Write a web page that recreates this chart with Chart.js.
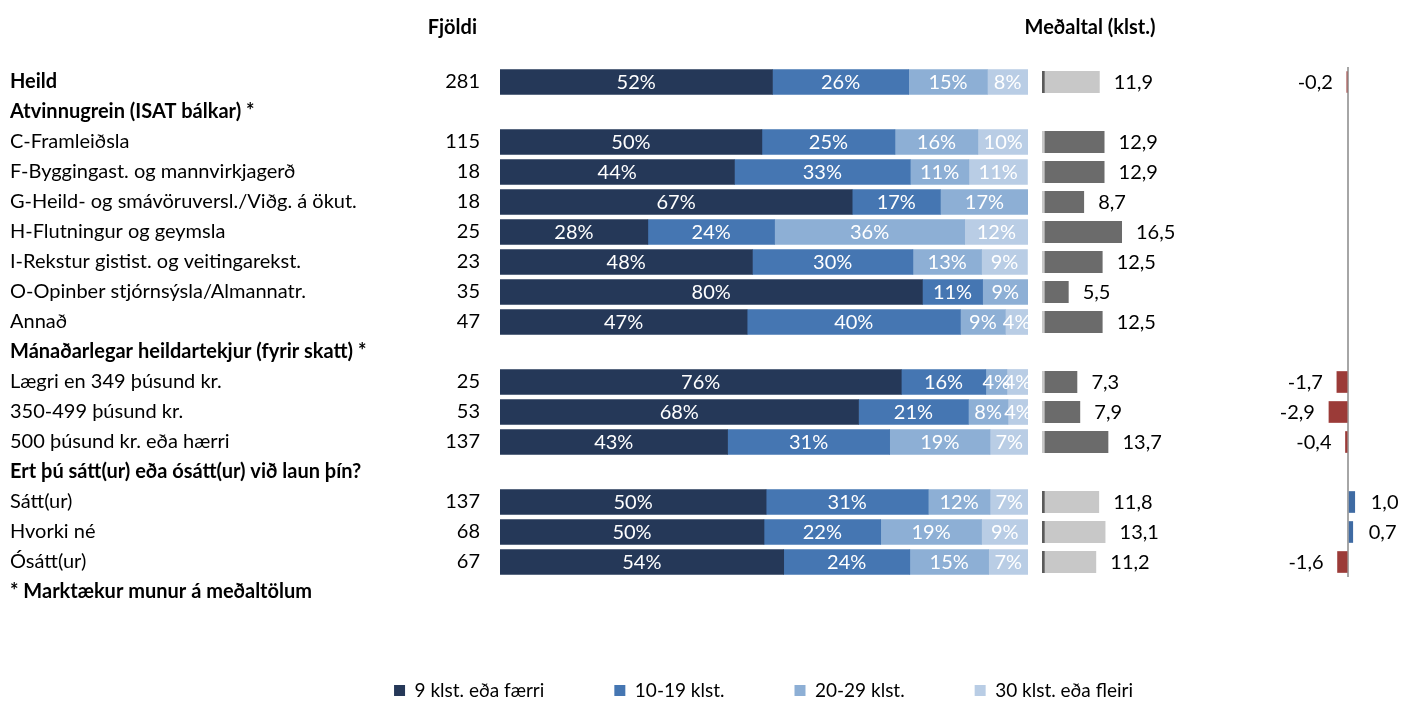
<!DOCTYPE html>
<html><head><meta charset="utf-8">
<script src="https://cdn.jsdelivr.net/npm/chart.js@4.4.1/dist/chart.umd.min.js"></script>
<style>
html,body{margin:0;padding:0;background:#fff;overflow:hidden;width:1405px;height:702px;position:relative}
canvas{position:absolute;top:0}
#cA{left:0}
#cB{left:1000px}
#cC{left:122px}
</style></head><body>
<canvas id="cA" width="1040" height="702"></canvas>
<canvas id="cB" width="300" height="702"></canvas>
<canvas id="cC" width="1283" height="710"></canvas>
<script>
// ---------- data ----------
const categories = [
  'Heild',
  'Atvinnugrein (ISAT bálkar) *',
  'C-Framleiðsla',
  'F-Byggingast. og mannvirkjagerð',
  'G-Heild- og smávöruversl./Viðg. á ökut.',
  'H-Flutningur og geymsla',
  'I-Rekstur gistist. og veitingarekst.',
  'O-Opinber stjórnsýsla/Almannatr.',
  'Annað',
  'Mánaðarlegar heildartekjur (fyrir skatt) *',
  'Lægri en 349 þúsund kr.',
  '350-499 þúsund kr.',
  '500 þúsund kr. eða hærri',
  'Ert þú sátt(ur) eða ósátt(ur) við laun þín?',
  'Sátt(ur)',
  'Hvorki né',
  'Ósátt(ur)',
  '* Marktækur munur á meðaltölum'
];
const headerRows = [0, 1, 9, 13, 17];
const counts = ['281', '', '115', '18', '18', '25', '23', '35', '47', '', '25', '53', '137', '', '137', '68', '67', ''];
const seriesNames = ['9 klst. eða færri', '10-19 klst.', '20-29 klst.', '30 klst. eða fleiri'];
const s9  = [51.6, null, 49.6, 44.4, 66.7, 28.0, 47.8, 80.0, 46.8, null, 76.0, 67.9, 43.1, null, 50.4, 50.0, 53.73, null];
const s10 = [25.8, null, 25.2, 33.3, 16.7, 24.0, 30.4, 11.4, 40.4, null, 16.0, 20.8, 30.7, null, 30.7, 22.1, 23.88, null];
const s20 = [14.9, null, 15.7, 11.1, 16.7, 36.0, 13.0, 8.6, 8.5, null, 4.0, 7.5, 19.0, null, 11.7, 19.1, 14.93, null];
const s30 = [7.7, null, 9.6, 11.1, null, 12.0, 8.7, null, 4.3, null, 4.0, 3.8, 7.3, null, 7.3, 8.8, 7.46, null];
const means = [11.9, null, 12.9, 12.9, 8.7, 16.5, 12.5, 5.5, 12.5, null, 7.3, 7.9, 13.7, null, 11.8, 13.1, 11.2, null];
const diffs = [-0.2, null, null, null, null, null, null, null, null, null, -1.7, -2.9, -0.4, null, 1.0, 0.7, -1.6];

// ---------- styles ----------
const FONT = 'Lato, "Open Sans", sans-serif';
const FS = 20;
const seriesColors = ['#253858', '#4576B2', '#8DAFD5', '#B9CDE5'];
// a row's mean bar is dark when its group header is marked significant (*)
function groupSignificant(i) {
  for (let k = i; k >= 0; k--) {
    if (headerRows.includes(k)) return k !== 0 && categories[k].trim().endsWith('*');
  }
  return false;
}
const fmt = v => v.toFixed(1).replace('.', ',');

// ---------- Chart A: labels, counts, stacked bars ----------
const pctLabels = {
  id: 'pctLabels',
  afterDatasetsDraw(chart) {
    const ctx = chart.ctx;
    ctx.save();
    ctx.font = `${FS}px ${FONT}`;
    ctx.fillStyle = '#fff';
    ctx.textAlign = 'center';
    ctx.textBaseline = 'middle';
    chart.data.datasets.forEach((ds, di) => {
      chart.getDatasetMeta(di).data.forEach((el, j) => {
        const v = ds.data[j];
        if (v == null) return;
        ctx.fillText(Math.round(v) + '%', (el.x + el.base) / 2, el.y + 1);
      });
    });
    // column header
    const y2 = chart.scales.y2;
    ctx.fillStyle = '#000';
    ctx.font = `bold ${FS}px ${FONT}`;
    ctx.textAlign = 'right';
    ctx.fillText('Fjöldi', y2.right - 23, 28);
    ctx.restore();
  }
};

new Chart(document.getElementById('cA'), {
  type: 'bar',
  data: {
    labels: categories,
    datasets: [s9, s10, s20, s30].map((d, k) => ({
      label: seriesNames[k], data: d, backgroundColor: seriesColors[k],
      borderWidth: 0, barThickness: 25
    }))
  },
  options: {
    indexAxis: 'y', responsive: false, animation: false,
    layout: { padding: { left: 10, top: 67, bottom: 95, right: 12 } },
    plugins: { legend: { display: false }, tooltip: { enabled: false } },
    scales: {
      x: { stacked: true, min: 0, max: 100, display: false },
      y: {
        stacked: true, position: 'left', weight: 2,
        grid: { display: false }, border: { display: false },
        ticks: {
          crossAlign: 'far', color: '#000', autoSkip: false, padding: 0,
          font: c => ({ family: FONT, size: FS, weight: headerRows.includes(c.index) ? 'bold' : 'normal' })
        },
        afterFit: s => { s.width = 390; }
      },
      y2: {
        type: 'category', labels: counts, position: 'left', weight: 1, offset: true,
        grid: { display: false, drawTicks: false }, border: { display: false },
        ticks: { color: '#000', autoSkip: false, padding: 20, font: { family: FONT, size: FS } },
        afterFit: s => { s.width = 100; }
      }
    }
  },
  plugins: [pctLabels]
});

// ---------- Chart B: means ----------
const meanLabels = {
  id: 'meanLabels',
  afterDatasetsDraw(chart) {
    const ctx = chart.ctx;
    ctx.save();
    ctx.font = `${FS}px ${FONT}`;
    ctx.fillStyle = '#000';
    ctx.textAlign = 'left';
    ctx.textBaseline = 'middle';
    const ds = chart.data.datasets[0];
    chart.getDatasetMeta(0).data.forEach((el, j) => {
      const v = ds.data[j];
      if (v == null) return;
      ctx.fillText(fmt(v), el.x + 14, el.y + 1);
    });
    ctx.font = `bold ${FS}px ${FONT}`;
    ctx.textAlign = 'center';
    ctx.fillText('Meðaltal (klst.)', chart.chartArea.left + 48, 28);
    ctx.restore();
  }
};

new Chart(document.getElementById('cB'), {
  type: 'bar',
  data: {
    labels: categories,
    datasets: [{
      label: 'Meðaltal', data: means,
      backgroundColor: means.map((v, i) => groupSignificant(i) ? '#6B6B6B' : '#C8C8C8'),
      borderColor: means.map((v, i) => groupSignificant(i) ? '#C8C8C8' : '#5A5A5A'),
      borderWidth: { left: 3, top: 0, right: 0, bottom: 0 },
      borderSkipped: false,
      barThickness: 22
    }]
  },
  options: {
    indexAxis: 'y', responsive: false, animation: false,
    layout: { padding: { left: 42, top: 67, bottom: 95, right: 64 } },
    plugins: { legend: { display: false }, tooltip: { enabled: false } },
    scales: {
      x: { min: 0, max: 40, display: false },
      y: { display: false }
    }
  },
  plugins: [meanLabels]
});

// ---------- Chart C: differences + legend ----------
const diffLabels = {
  id: 'diffLabels',
  afterDatasetsDraw(chart) {
    const ctx = chart.ctx;
    ctx.save();
    ctx.font = `${FS}px ${FONT}`;
    ctx.fillStyle = '#000';
    ctx.textBaseline = 'middle';
    const ds = chart.data.datasets[0];
    chart.getDatasetMeta(0).data.forEach((el, j) => {
      const v = ds.data[j];
      if (v == null) return;
      if (v < 0) { ctx.textAlign = 'right'; ctx.fillText(fmt(v), el.x - 14, el.y + 1); }
      else { ctx.textAlign = 'left'; ctx.fillText(fmt(v), el.x + 16, el.y + 1); }
    });
    ctx.restore();
  }
};

new Chart(document.getElementById('cC'), {
  type: 'bar',
  data: {
    labels: categories.slice(0, diffs.length),
    datasets: [{
      label: 'Mismunur', data: diffs,
      backgroundColor: diffs.map(v => v != null && v < 0 ? '#9B3B38' : '#3F6BA3'),
      borderWidth: 0, barThickness: 21
    }]
  },
  options: {
    indexAxis: 'y', responsive: false, animation: false,
    layout: { padding: { left: 0, top: 67, bottom: 0, right: 0 } },
    plugins: {
      tooltip: { enabled: false },
      legend: {
        display: true, position: 'bottom', onClick: null,
        labels: {
          boxWidth: 11, boxHeight: 11, padding: 70, color: '#000',
          font: { family: FONT, size: 19 },
          generateLabels: () => seriesNames.map((t, k) => ({
            text: t, fillStyle: seriesColors[k], strokeStyle: seriesColors[k],
            lineWidth: 0, hidden: false, index: k
          }))
        }
      }
    },
    scales: {
      x: {
        min: -10, max: 8.6, display: true,
        ticks: { display: false, stepSize: 5 },
        border: { display: false },
        grid: {
          drawTicks: false, lineWidth: 2,
          color: c => (c.tick && c.tick.value === 0) ? '#A6A6A6' : 'rgba(0,0,0,0)'
        },
        afterFit: s => { s.height = Math.max(0, s.chart.height - s.chart.legend.height - 577); }
      },
      y: {
        display: true, grid: { display: false }, border: { display: false },
        ticks: { display: false },
        afterFit: s => { s.width = 1160; }
      }
    }
  },
  plugins: [diffLabels]
});
</script>
</body></html>
